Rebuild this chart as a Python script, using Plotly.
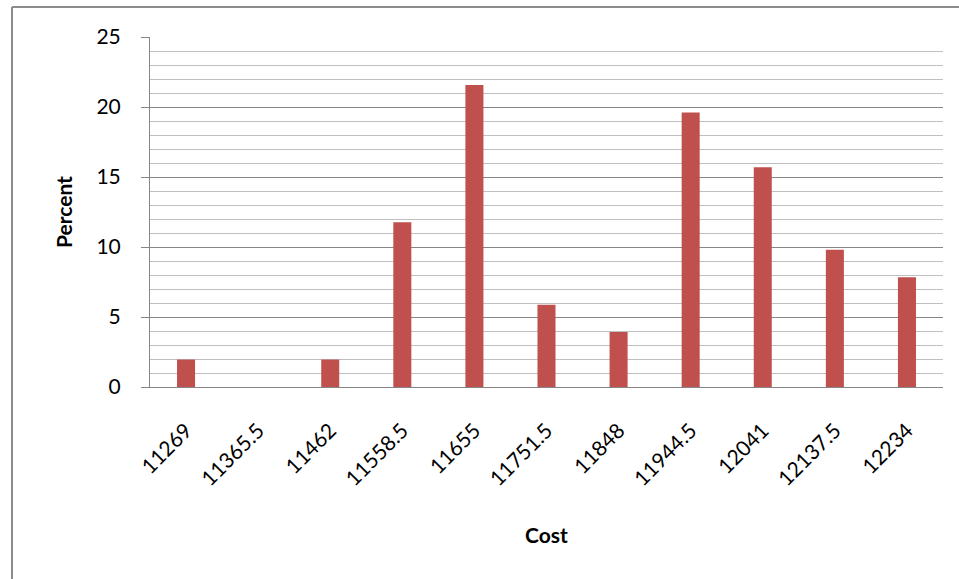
import plotly.graph_objects as go

# Histogram of cost: percent of observations in each bin
cost_bins = ["11269", "11365.5", "11462", "11558.5", "11655", "11751.5",
             "11848", "11944.5", "12041", "12137.5", "12234"]
percent = [1.96, 0, 1.96, 11.76, 21.57, 5.88, 3.92, 19.61, 15.69, 9.80, 7.84]

W, H = 959, 579
L, R, T, B = 150, 16, 37, 192
pw, ph = W - L - R, H - T - B

def px_x(x):
    return (x - L) / pw

def px_y(y):
    return (H - B - y) / ph

FONT = "Lato, Carlito, Calibri, sans-serif"
MAJOR = "#868686"
MINOR = "#BFBFBF"

fig = go.Figure(go.Bar(
    x=cost_bins, y=percent,
    marker=dict(color="#C0504D", line=dict(width=0)),
))

fig.update_layout(
    width=W, height=H,
    margin=dict(l=L, r=R, t=T, b=B),
    paper_bgcolor="white", plot_bgcolor="white",
    bargap=0.75,
    showlegend=False,
    font=dict(family=FONT, size=21, color="black"),
    xaxis=dict(
        type="category",
        tickangle=-45,
        showgrid=False,
        showline=True, linecolor=MAJOR, linewidth=1,
        ticks="", ticklabelstandoff=22,
        tickfont=dict(family=FONT, size=21),
    ),
    yaxis=dict(
        range=[0, 25], dtick=5,
        showgrid=True, gridcolor=MAJOR, gridwidth=1,
        zeroline=False,
        showline=True, linecolor=MAJOR, linewidth=1,
        ticks="outside", ticklen=8, tickcolor=MAJOR,
        ticklabelstandoff=16,
        tickfont=dict(family=FONT, size=21),
        minor=dict(dtick=1, showgrid=True, gridcolor=MINOR, gridwidth=1, ticks=""),
    ),
    annotations=[
        dict(text="<b>Percent</b>", x=px_x(63), y=px_y(212), xref="paper", yref="paper",
             xanchor="center", yanchor="middle",
             textangle=-90, showarrow=False, font=dict(family=FONT, size=21)),
        dict(text="<b>Cost</b>", x=px_x(546), y=px_y(534), xref="paper", yref="paper",
             xanchor="center", yanchor="middle",
             showarrow=False, font=dict(family=FONT, size=21)),
    ],
    shapes=[
        # chart frame: left and top edges
        dict(type="line", xref="paper", yref="paper",
             x0=px_x(12), x1=px_x(12), y0=px_y(7), y1=px_y(H + 5),
             line=dict(color="#8C8C8C", width=2)),
        dict(type="line", xref="paper", yref="paper",
             x0=px_x(12), x1=px_x(W + 5), y0=px_y(7), y1=px_y(7),
             line=dict(color="#8C8C8C", width=2)),
    ],
)

fig.write_html("out.html")
